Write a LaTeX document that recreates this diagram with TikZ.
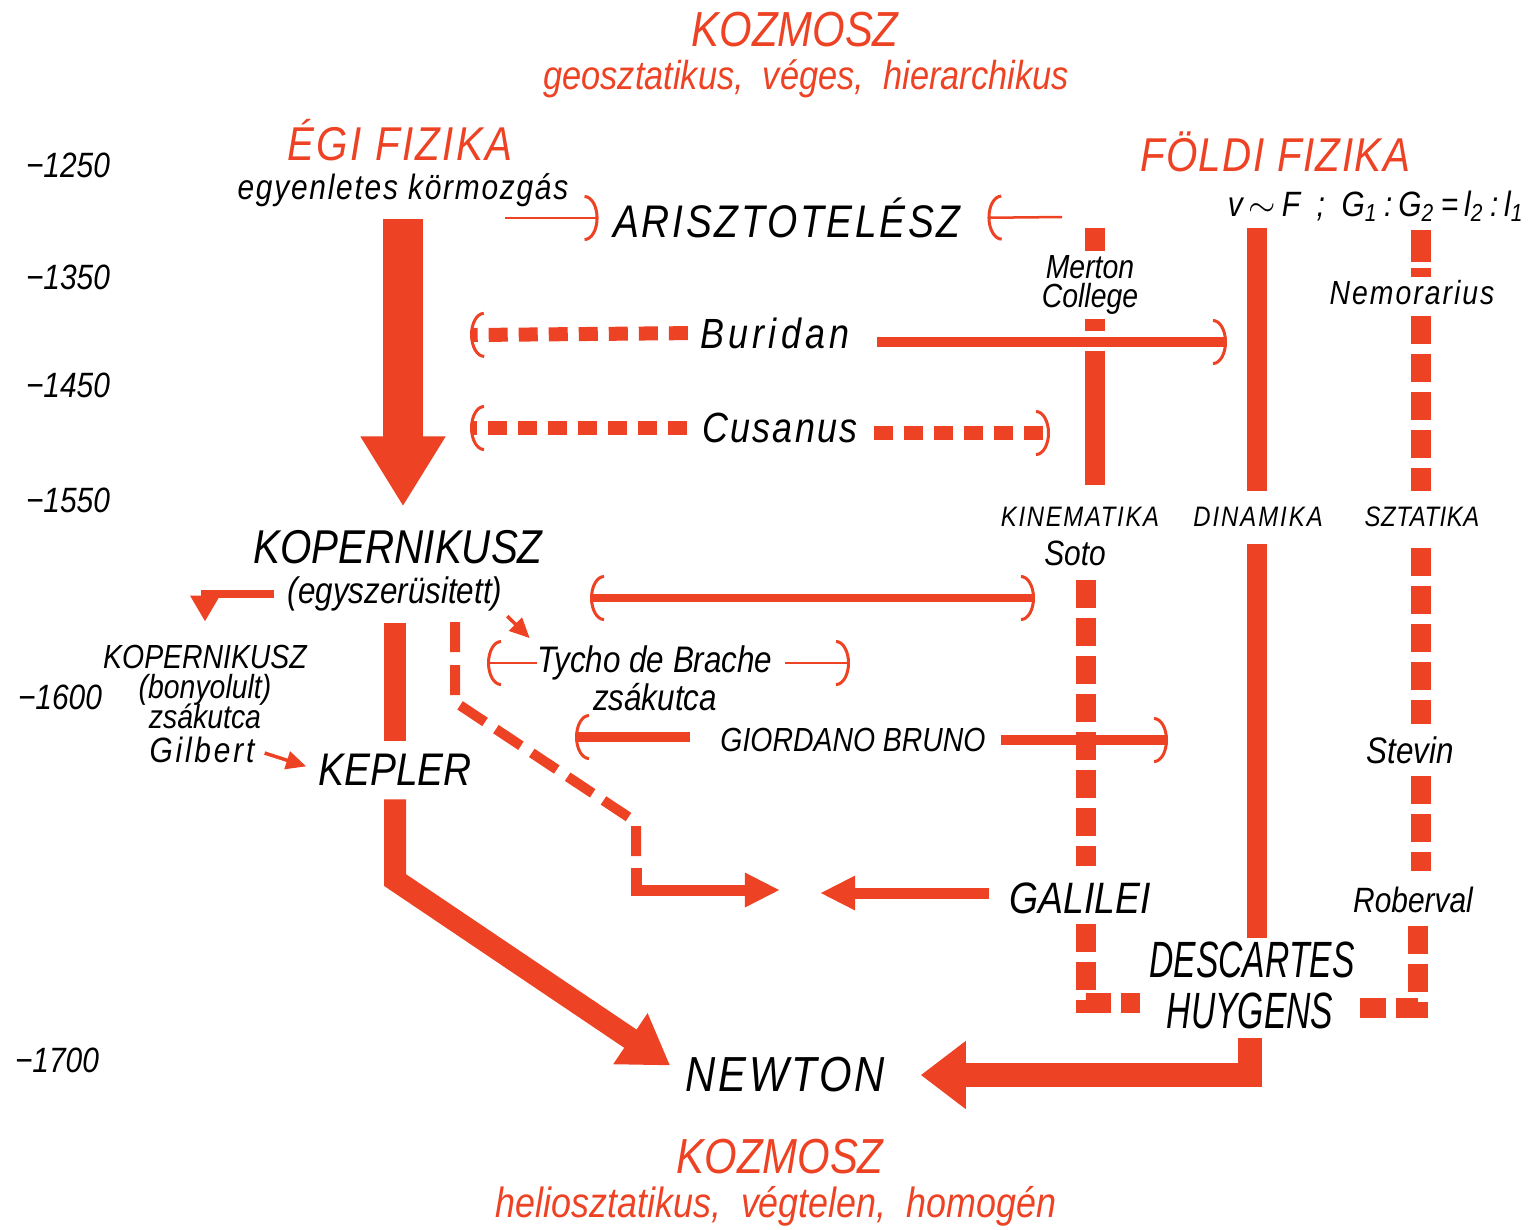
\documentclass[tikz,border=0pt]{standalone}
\usepackage{fontspec}
\usepackage{tikz}
\usetikzlibrary{arrows.meta}
\definecolor{redink}{RGB}{238,66,36}
\newfontfamily\lettering[FakeStretch=0.85]{Liberation Sans}
\newfontfamily\narrowlettering[FakeStretch=0.66]{Liberation Sans}
\newcommand\spaced[1]{\addfontfeature{LetterSpace=#1}}
\setlength\lineskiplimit{-10pt}

\begin{document}
\begin{tikzpicture}[x=0.01cm, y=-0.01cm,
    txt/.style={inner sep=0pt, font=\lettering\itshape\fontsize{#1}{#1}\selectfont},
    redtxt/.style={txt=#1, text=redink},
    bigtxt/.style={inner sep=0pt, font=\narrowlettering\itshape\fontsize{14.5}{14.5}\selectfont},
    block/.style={inner sep=0pt, align=center, font=\lettering\itshape\fontsize{9.5}{8.5}\selectfont},
    arcend/.tip={Arc Barb[width=4.6mm, length=1.4mm, line width=0.3mm]},
    thinbarb/.style={draw=redink, line width=0.25mm, -arcend},
    solidbarb/.style={draw=redink, line width=1.05mm, -arcend},
    dashbarb/.style={draw=redink, line width=1.4mm, dash pattern=on 1.9mm off 1.1mm, -arcend},
    bigarrow/.style={draw=redink, line width=4mm, -{Triangle[width=8mm, length=7mm]}},
    fatarrow/.style={draw=redink, line width=2.2mm, -{Triangle[width=5.8mm, length=4.8mm]}},
    fatline/.style={draw=redink, line width=2.2mm},
    medarrow/.style={draw=redink, line width=1.1mm, -{Triangle[width=3.2mm, length=3.5mm]}},
    elbowarrow/.style={draw=redink, line width=0.8mm, -{Triangle[width=2.8mm, length=2.6mm]}},
    smallarrow/.style={draw=redink, line width=0.35mm, -{Triangle[width=1.8mm, length=2mm]}},
    dashline/.style={draw=redink, line width=1mm, dash pattern=on 3mm off 1.3mm},
    colbar/.style={draw=redink, line width=2mm},
    coldash/.style={draw=redink, line width=2mm, dash pattern=on 2.8mm off 1mm},
  ]
  \fill[white] (0,0) rectangle (1534,1229);
  \useasboundingbox (0,0) rectangle (1534,1229);

  % evszamok
  \node[txt=10] (y1250) at (68,165) {−1250};
  \node[txt=10] (y1350) at (68,277) {−1350};
  \node[txt=10] (y1450) at (68,385) {−1450};
  \node[txt=10] (y1550) at (68,500) {−1550};
  \node[txt=10] (y1600) at (60,697) {−1600};
  \node[txt=10] (y1700) at (57,1060) {−1700};

  % cimek
  \node[redtxt=14] (kozfel) at (795,30) {KOZMOSZ};
  \node[redtxt=11.5] (geo) at (806,79) {geosztatikus,\ \ véges,\ \ hierarchikus};
  \node[redtxt=13.5] (egi) at (400,140) {\spaced{5}ÉGI FIZIKA};
  \node[redtxt=13.5] (foldi) at (1275,152) {\spaced{3}FÖLDI FIZIKA};
  \node[redtxt=14] (kozle) at (780,1157) {KOZMOSZ};
  \node[redtxt=12] (helio) at (776,1206) {heliosztatikus,\ \ végtelen,\ \ homogén};

  % nevek
  \node[txt=10] (korm) at (403,190) {\spaced{5}egyenletes körmozgás};
  \node[txt=13] (arisz) at (787,218) {\spaced{6}ARISZTOTELÉSZ};
  \node[txt=10] (keplet) at (1376,206)
    {v\,$\sim$\,F\ \ ;\ \ G\textsubscript{1}\,:\,G\textsubscript{2}\,=\,l\textsubscript{2}\,:\,l\textsubscript{1}};
  \node[block] (merton) at (1090,285) {Merton\\College};
  \node[txt=9.5] (nemo) at (1412,293) {\spaced{6}Nemorarius};
  \node[txt=12] (buridan) at (775,333) {\spaced{10}Buridan};
  \node[txt=12] (cusanus) at (780,428) {\spaced{5}Cusanus};
  \node[txt=8] (kinem) at (1080,517) {\spaced{6}KINEMATIKA};
  \node[txt=8] (dinam) at (1258,517) {\spaced{7}DINAMIKA};
  \node[txt=8] (sztat) at (1422,517) {\spaced{2}SZTATIKA};
  \node[txt=10] (soto) at (1075,553) {Soto};
  \node[txt=13.5] (kopT) at (398,547) {KOPERNIKUSZ};
  \node[txt=10.5] (egysz) at (395,594) {(egyszerüsitett)};
  \node[block] (kopB) at (205,687) {KOPERNIKUSZ\\(bonyolult)\\zsákutca};
  \node[txt=10] (gilbert) at (202,750) {\spaced{8}Gilbert};
  \node[txt=10.5] (tycho) at (655,663) {Tycho de Brache};
  \node[txt=10.5] (tychoz) at (655,697) {zsákutca};
  \node[txt=9.5] (giordano) at (853,740) {GIORDANO BRUNO};
  \node[txt=10.5] (stevin) at (1410,750) {Stevin};
  \node[txt=13] (kepler) at (395,770) {KEPLER};
  \node[txt=12.5] (galilei) at (1080,898) {GALILEI};
  \node[txt=10] (roberval) at (1413,900) {Roberval};
  \node[bigtxt] (desc) at (1252,960) {DESCARTES};
  \node[bigtxt] (huyg) at (1250,1011) {HUYGENS};
  \node[txt=14] (newton) at (785,1075) {\spaced{6}NEWTON};

  % szabad vegpontok
  \coordinate (kormOut) at (505,218);
  \coordinate (mertonIn) at (1062,217);
  \coordinate (burL) at (470,335);
  \coordinate (burR) at (1227,342);
  \coordinate (cusL) at (470,428);
  \coordinate (cusR) at (1050,433);
  \coordinate (sotoL) at (590,598);
  \coordinate (sotoR) at (1035,598);
  \coordinate (tyL) at (487,663);
  \coordinate (tyR) at (850,663);
  \coordinate (giL) at (575,737);
  \coordinate (giR) at (1168,740);
  \coordinate (kd1) at (455,622);
  \coordinate (kd2) at (455,702);
  \coordinate (kd3) at (636,822);
  \coordinate (kd4) at (636,868);
  \coordinate (meetL) at (780,890);
  \coordinate (meetR) at (820,893);
  \coordinate (kepBend) at (395,880);
  \coordinate (kinTop) at (1095,228);
  \coordinate (kinCorner) at (1086,1003);
  \coordinate (dinTop) at (1257,228);
  \coordinate (szTop) at (1421,230);
  \coordinate (szCorner) at (1418,1008);

  % egi fizika
  \draw[bigarrow, shorten <=1.2mm, shorten >=2.3mm] (korm.south) -- (korm.south |- kopT.north);
  \draw[thinbarb, shorten >=1.4mm] (kormOut) -- (arisz.west);
  \draw[thinbarb, shorten >=2.6mm] (mertonIn) -- (arisz.east);

  % Buridan, Cusanus
  \draw[dashbarb, shorten <=1.2mm] (buridan.west) -- (burL);
  \draw[solidbarb, shorten <=2.7mm] (buridan.east |- burR) -- (burR);
  \draw[dashbarb, shorten <=1.5mm] (cusanus.west) -- (cusL);
  \draw[dashbarb, shorten <=1.6mm] (cusanus.east |- cusR) -- (cusR);

  % Kopernikusz
  \draw[elbowarrow, shorten <=1.3mm, shorten >=2.3mm] (egysz.west) -| (kopB.north);
  \draw[smallarrow, shorten <=0.6mm, shorten >=1mm] (egysz.south east) -- (tycho.north west);
  \draw[fatline, shorten <=1.1mm, shorten >=1.3mm] (kepler.north |- egysz.south) -- (kepler.north);
  \draw[draw=redink, line width=0.8mm, arcend-arcend] (sotoL) -- (sotoR);
  \draw[thinbarb] (tycho.west) -- (tyL);
  \draw[thinbarb, shorten <=1.2mm] (tycho.east) -- (tyR);
  \draw[solidbarb, shorten <=3mm] (giordano.west |- giL) -- (giL);
  \draw[solidbarb, shorten <=1.5mm] (giordano.east |- giR) -- (giR);
  \draw[smallarrow, shorten <=1mm, shorten >=1.2mm] (gilbert.east) -- (kepler.west);

  % Kopernikusz -> Galilei
  \draw[dashline] (kd1) -- (kd2) -- (kd3) -- (kd4);
  \draw[medarrow] (kd4) |- (meetL);
  \draw[medarrow, shorten <=2mm] (galilei.west |- meetR) -- (meetR);

  % Newton
  \draw[fatarrow, shorten <=1.3mm, shorten >=1.7mm] (kepler.south) -- (kepBend) -- (newton.west);
  \draw[draw=redink, line width=2.4mm, -{Triangle[width=6.5mm, length=4.5mm]},
    shorten <=0.8mm, shorten >=3.5mm] (huyg.south) |- (newton.east);

  % kinematika
  \draw[colbar, shorten >=0.3mm] (kinTop) -- (kinTop |- merton.north);
  \draw[colbar, dash pattern=on 1.2mm off 2mm on 30mm, shorten <=0.3mm, shorten >=2.2mm]
    (kinTop |- merton.south) -- (kinTop |- kinem.north);
  \draw[coldash, shorten <=1.4mm, shorten >=1.6mm] (kinCorner |- soto.south) -- (kinCorner |- galilei.north);
  \draw[coldash, shorten <=1mm, shorten >=2.6mm] (kinCorner |- galilei.south) -- (kinCorner) -- (huyg.west |- kinCorner);

  % dinamika
  \draw[colbar, shorten >=1.6mm] (dinTop) -- (dinTop |- dinam.north);
  \draw[colbar, shorten <=1.7mm, shorten >=0.3mm] (dinTop |- dinam.south) -- (dinTop |- desc.north);

  % sztatika
  \draw[colbar, dash pattern=on 3.2mm off 0.6mm on 0.9mm off 10mm] (szTop) -- (szTop |- nemo.north);
  \draw[coldash, shorten <=1mm, shorten >=1.5mm] (szTop |- nemo.south) -- (szTop |- sztat.north);
  \draw[coldash, shorten <=2mm, shorten >=1.2mm] (szTop |- sztat.south) -- (szTop |- stevin.north);
  \draw[coldash, shorten <=1.2mm, shorten >=1.5mm] (szTop |- stevin.south) -- (szTop |- roberval.north);
  \draw[coldash, shorten <=1.2mm, shorten >=2.6mm] (szCorner |- roberval.south) -- (szCorner) -- (huyg.east |- szCorner);
\end{tikzpicture}
\end{document}
